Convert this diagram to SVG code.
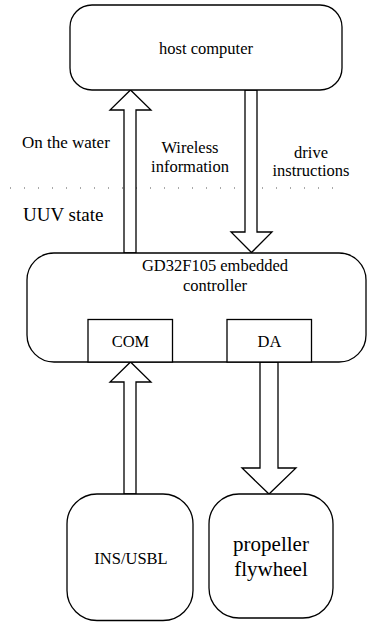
<svg xmlns="http://www.w3.org/2000/svg" width="368" height="622" viewBox="0 0 368 622">
<style>
.box{fill:#fff;stroke:#000;stroke-width:1.3}
.arr{fill:#fff;stroke:#000;stroke-width:1.3;stroke-linejoin:miter}
.d{stroke:#555;stroke-width:1.2;stroke-dasharray:1 13;fill:none}
</style>
<rect width="368" height="622" fill="#fff"/>
<line class="d" x1="10" y1="188" x2="345" y2="188"/>
<g id="connectors">
<polygon class="arr" points="124,253 124,110 110,110 130.5,90 151,110 136,110 136,253"/>
<polygon class="arr" points="245,90 245,232 231,232 251.5,252.5 272,232 257,232 257,90"/>
<polygon class="arr" points="124,494 124,382 110,382 130.5,362 151,382 136,382 136,494"/>
<polygon class="arr" points="260,362 260,468 242,468 269,494 296,468 278,468 278,362"/>
</g>
<g id="host">
<rect class="box" x="70" y="5" width="272" height="85" rx="22"/>
<text x="206" y="54" font-size="16.5" font-family="'Liberation Serif', serif" text-anchor="middle">host computer</text>
</g>
<g id="controller">
<rect class="box" x="27" y="253" width="339" height="109" rx="27"/>
<text x="215" y="271" font-size="16.5" font-family="'Liberation Serif', serif" text-anchor="middle">GD32F105 embedded</text>
<text x="215" y="291" font-size="16.5" font-family="'Liberation Serif', serif" text-anchor="middle">controller</text>
</g>
<g id="com">
<rect class="box" x="88" y="319.5" width="84.5" height="42.5"/>
<text x="130.5" y="346.5" font-size="16.5" font-family="'Liberation Serif', serif" text-anchor="middle">COM</text>
</g>
<g id="da">
<rect class="box" x="227" y="319.5" width="84.5" height="42.5"/>
<text x="269.5" y="346.5" font-size="16.5" font-family="'Liberation Serif', serif" text-anchor="middle">DA</text>
</g>
<g id="ins">
<rect class="box" x="67" y="494" width="126" height="126.5" rx="30"/>
<text x="131" y="564" font-size="16.5" font-family="'Liberation Serif', serif" text-anchor="middle">INS/USBL</text>
</g>
<g id="propeller">
<rect class="box" x="209" y="494" width="124" height="124" rx="30"/>
<text x="271" y="551" font-size="21" font-family="'Liberation Serif', serif" text-anchor="middle">propeller</text>
<text x="271" y="576" font-size="21" font-family="'Liberation Serif', serif" text-anchor="middle">flywheel</text>
</g>
<g id="labels">
<text x="22" y="148" font-size="17" font-family="'Liberation Serif', serif">On the water</text>
<text x="190" y="153" font-size="16.5" font-family="'Liberation Serif', serif" text-anchor="middle">Wireless</text>
<text x="190" y="172" font-size="16.5" font-family="'Liberation Serif', serif" text-anchor="middle">information</text>
<text x="311" y="158" font-size="16.5" font-family="'Liberation Serif', serif" text-anchor="middle">drive</text>
<text x="311" y="176" font-size="16.5" font-family="'Liberation Serif', serif" text-anchor="middle">instructions</text>
<text x="23" y="221" font-size="19" font-family="'Liberation Serif', serif">UUV state</text>
</g>
</svg>
